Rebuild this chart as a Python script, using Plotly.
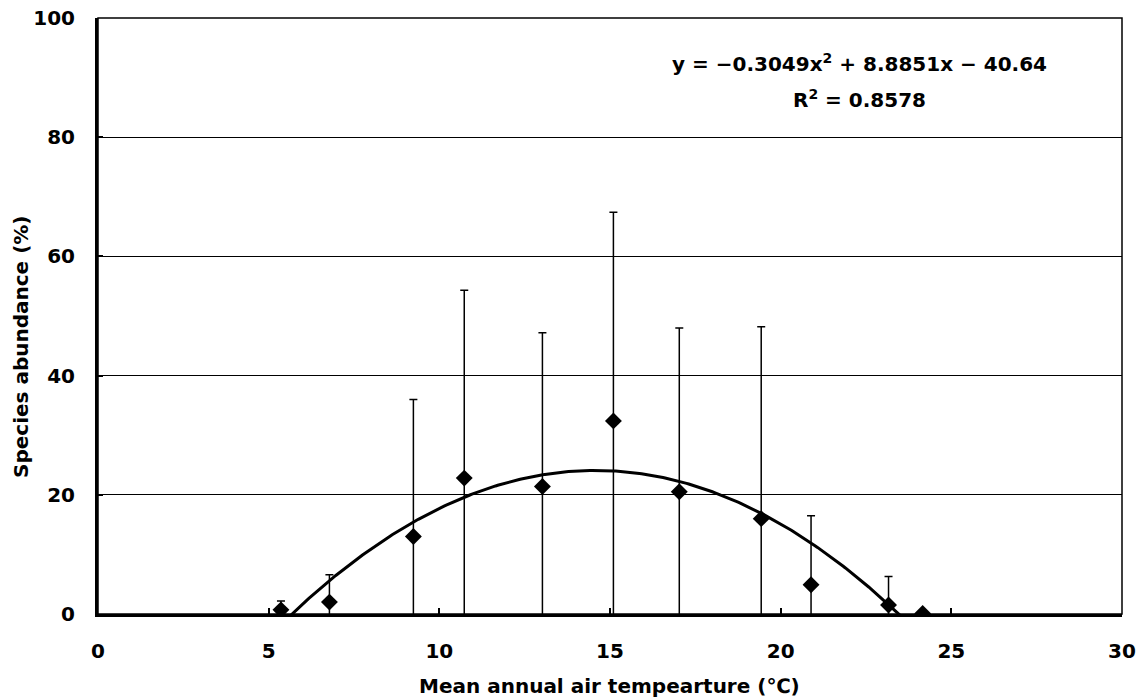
import numpy as np
import plotly.graph_objects as go

# Data
temps = [5.36, 6.78, 9.24, 10.73, 13.02, 15.10, 17.03, 19.43, 20.89, 23.16, 24.16]
abundance = [0.7, 2.0, 13.0, 22.8, 21.4, 32.4, 20.5, 16.0, 4.9, 1.5, 0.1]
errors = [1.5, 4.6, 23.0, 31.5, 25.8, 35.0, 27.5, 32.2, 11.6, 4.8, 0.0]

# Polynomial trendline coefficients shown on the chart
fit_coef = [-0.3049, 8.8851, -40.64]
r_squared = 0.8578

x_ticks = [0, 5, 10, 15, 20, 25, 30]
y_ticks = [0, 20, 40, 60, 80, 100]

FONT = "DejaVu Sans"
FS = 20

xs = np.linspace(min(temps), max(temps), 300)
ys = np.polyval(fit_coef, xs)

fig = go.Figure()
fig.add_trace(go.Scatter(
    x=xs, y=ys, mode="lines",
    line=dict(color="black", width=3),
    showlegend=False, hoverinfo="skip",
))
fig.add_trace(go.Scatter(
    x=temps, y=abundance, mode="markers",
    marker=dict(symbol="diamond", size=13, color="black"),
    error_y=dict(type="data", array=errors, visible=True,
                 color="black", thickness=1.5, width=4),
    showlegend=False,
))

fig.add_annotation(
    x=22.3, y=92.4, xref="x", yref="y",
    text="<b>y = \u22120.3049x<sup>2</sup> + 8.8851x \u2212 40.64</b>",
    showarrow=False, font=dict(family=FONT, size=FS, color="black"),
)
fig.add_annotation(
    x=22.3, y=86.4, xref="x", yref="y",
    text=f"<b>R<sup>2</sup> = {r_squared}</b>",
    showarrow=False, font=dict(family=FONT, size=FS, color="black"),
)

# axis titles
fig.add_annotation(
    x=(609 - 98) / 1024, y=-(686 - 614) / 596, xref="paper", yref="paper",
    xanchor="center", yanchor="middle",
    text="<b>Mean annual air tempearture (\u2103)</b>",
    showarrow=False, font=dict(family=FONT, size=FS, color="black"),
)
fig.add_annotation(
    x=-(98 - 21) / 1024, y=(614 - 347) / 596, xref="paper", yref="paper",
    xanchor="center", yanchor="middle",
    text="<b>Species abundance (%)</b>", textangle=-90,
    showarrow=False, font=dict(family=FONT, size=FS, color="black"),
)

# thin box on top/right
fig.add_shape(type="rect", xref="paper", yref="paper", x0=0, y0=0, x1=1, y1=1,
              line=dict(color="black", width=1.5))

fig.update_layout(
    width=1141, height=698,
    margin=dict(l=98, r=19, t=18, b=84, autoexpand=False),
    plot_bgcolor="white", paper_bgcolor="white",
    font=dict(family=FONT, size=FS, color="black"),
)
fig.update_xaxes(
    range=[0, 30], tickvals=x_ticks, ticktext=[f"<b>{v}</b>" for v in x_ticks],
    showgrid=False, zeroline=False, automargin=False,
    showline=True, linecolor="black", linewidth=3,
    ticks="inside", ticklen=6, tickwidth=2, tickcolor="black",
    ticklabelstandoff=17, tickfont=dict(size=FS),
)
fig.update_yaxes(
    range=[0, 100], tickvals=y_ticks, ticktext=[f"<b>{v}</b>" for v in y_ticks],
    showgrid=True, gridcolor="black", gridwidth=1.2, zeroline=False, automargin=False,
    showline=True, linecolor="black", linewidth=3,
    ticks="inside", ticklen=5, tickwidth=2, tickcolor="black",
    ticklabelstandoff=16, tickfont=dict(size=FS),
)

fig.write_html(
    "out.html",
    config={"displayModeBar": False},
    post_script="document.body.style.margin='0';document.body.style.overflow='hidden';",
)
